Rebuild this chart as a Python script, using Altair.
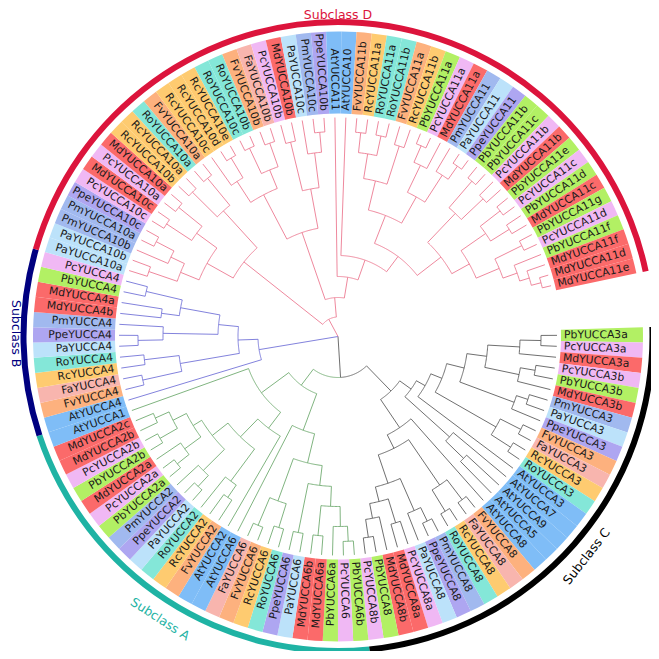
import math, re
import altair as alt
import pandas as pd

# ---------------- data: tree (node value = node height, leaves at TIP_DEPTH) ----------------
TIP_DEPTH = 219
C3A = "((PbYUCCA3a,PcYUCCA3a):203,MdYUCCA3a):182"
C3B = "((PcYUCCA3b,PbYUCCA3b):200,MdYUCCA3b):185"
C3P = "((PmYUCCA3,PaYUCCA3):200,PpeYUCCA3):188"
C3R = "((FvYUCCA3,FaYUCCA3):205,(RcYUCCA3,RoYUCCA3):205):182"
C579 = "(AtYUCCA7,(AtYUCCA9,AtYUCCA5):175):150"
C8 = ("(AtYUCCA8,(((FvYUCCA8,FaYUCCA8):205,(RcYUCCA8,RoYUCCA8):205):180,(((PmYUCCA8,PpeYUCCA8):205,PaYUCCA8):190,"
      "((PcYUCCA8a,MdYUCCA8a):195,(MdYUCCA8b,(PbYUCCA8,PcYUCCA8b):203):185):170):155):125):110")
A6 = ("((((((PbYUCCA6b,PcYUCCA6):205,PbYUCCA6a):190,(MdYUCCA6a,MdYUCCA6b):200):170,(PaYUCCA6,PpeYUCCA6):200):150,"
      "((RoYUCCA6,RcYUCCA6):200,(FvYUCCA6,FaYUCCA6):205):175):130,AtYUCCA6):100")
A2 = ("((AtYUCCA2,(((FvYUCCA2,RcYUCCA2):195,RoYUCCA2):180,(((PaYUCCA2,PpeYUCCA2):205,PmYUCCA2):190,"
      "(((PbYUCCA2a,PcYUCCA2a):205,MdYUCCA2a):190,((PbYUCCA2b,PcYUCCA2b):205,(MdYUCCA2b,MdYUCCA2c):200):185):170):160):140):115,AtYUCCA1):95")
B4 = ("(AtYUCCA4,(((FvYUCCA4,FaYUCCA4):200,(RcYUCCA4,RoYUCCA4):195):160,(((PaYUCCA4,PpeYUCCA4):200,PmYUCCA4):175,"
      "((MdYUCCA4b,MdYUCCA4a):178,(PbYUCCA4,PcYUCCA4):197):160):120):100):80")
D10L = ("((((PaYUCCA10a,PaYUCCA10b):200,(PmYUCCA10b,(PmYUCCA10a,PpeYUCCA10c):205):185):170,((PcYUCCA10c,MdYUCCA10c):205,"
        "(PcYUCCA10a,MdYUCCA10a):205):175):150,((RcYUCCA10b,RcYUCCA10a):205,(RoYUCCA10a,FvYUCCA10a):205):170):120")
D10R = ("(((RcYUCCA10c,(RcYUCCA10d,RcYUCCA10e):208):185,((RoYUCCA10c,RoYUCCA10b):208,(FvYUCCA10b,FaYUCCA10b):205):180):160,"
        "((PcYUCCA10b,MdYUCCA10b):200,(PaYUCCA10c,(PmYUCCA10c,PpeYUCCA10b):205):185):150):110")
D11A = ("((((FvYUCCA11b,RcYUCCA11a):205,(RoYUCCA11a,RoYUCCA11b):205):185,(FvYUCCA11a,RcYUCCA11b):200):160,"
        "(((PbYUCCA11a,PcYUCCA11a):208,MdYUCCA11a):190,(PmYUCCA11,(PaYUCCA11,PpeYUCCA11):208):192):160):130")
D11E = ("(((PbYUCCA11b,PbYUCCA11c):205,(PcYUCCA11b,MdYUCCA11b):200):170,(((PbYUCCA11e,PcYUCCA11c):205,(PbYUCCA11d,MdYUCCA11c):202):180,"
        "((PbYUCCA11g,PcYUCCA11d):205,(PbYUCCA11f,(MdYUCCA11f,(MdYUCCA11d,MdYUCCA11e):210):200):190):175):150):130")

SUBCLASS_C = "(((((({},{}):150,{}):130,{}):112,AtYUCCA3):100,{}):90,{}):76".format(C3A, C3B, C3P, C3R, C579, C8)
SUBCLASS_A = "({},{}):61".format(A6, A2)
SUBCLASS_B = B4
SUBCLASS_D = "({},({},(AtYUCCA11,(AtYUCCA10,({},{}):100):81):60):39):19.5".format(D10L, D10R, D11A, D11E)

SUBCLASS_NAMES = ["Subclass C", "Subclass A", "Subclass B", "Subclass D"]
SUBCLASS_TREES = [SUBCLASS_C, SUBCLASS_A, SUBCLASS_B, SUBCLASS_D]

SPECIES = ["At", "Md", "Pc", "Pb", "Pm", "Pa", "Ppe", "Fv", "Fa", "Rc", "Ro"]
SPECIES_FILL = ["#7fbdf7", "#fb6a6a", "#f0b8f4", "#b2f064", "#a1b9ef", "#bce2fa",
                "#aea6f1", "#fdb17e", "#f8b5ae", "#fecb70", "#84e7d8"]
BRANCH_COLORS = ["#5f5f5f", "#72ab72", "#7474d8", "#ec7a92"]
ARC_COLORS = ["#000000", "#1fb3a4", "#000080", "#dc143c"]

# ---------------- layout (pixels inside the 643x643 plot) ----------------
W = H = 643
CX, CY = 330.0, 328.5
R_BAND_IN, R_BAND_OUT = 223.0, 305.0
R_ARC_IN, R_ARC_OUT = 311.5, 317.5
THETA0, THETA_END = -0.3, 346.6
# subclass label placement (polar angle, radius, text rotation)
SUB_LABEL_POS = [(41.5, 332, 308), (122.2, 334, 33), (180.5, 322.5, 90), (270, 321.5, 0)]


def parse(s):
    pos = 0

    def node():
        nonlocal pos
        if s[pos] == "(":
            pos += 1
            kids = [node()]
            while s[pos] == ",":
                pos += 1
                kids.append(node())
            pos += 1
            m = re.match(r":([\d.]+)", s[pos:])
            pos += len(m.group(0))
            return {"children": kids, "depth": float(m.group(1))}
        m = re.match(r"[A-Za-z0-9]+", s[pos:])
        pos += len(m.group(0))
        return {"name": m.group(0), "depth": TIP_DEPTH}

    n = node()
    assert pos == len(s), (pos, len(s))
    return n


counts = [len(re.findall(r"[A-Za-z]+YUCCA\w*", t)) for t in SUBCLASS_TREES]
tree = parse("(({},{}):41,{},{}):0".format(*SUBCLASS_TREES))

leaves = []


def collect(n):
    if "name" in n:
        leaves.append(n)
    else:
        for c in n["children"]:
            collect(c)


collect(tree)
N = len(leaves)
assert N == sum(counts), (N, counts)
step = (THETA_END - THETA0) / (N - 1)
bounds = []
acc = 0
for k in counts:
    bounds.append((acc, acc + k))
    acc += k
for i, lf in enumerate(leaves):
    lf["angle"] = THETA0 + i * step
    lf["sub"] = next(j for j, (a, b) in enumerate(bounds) if a <= i < b)


def assign(n):
    if "name" in n:
        return {n["sub"]}
    subs = set()
    for c in n["children"]:
        subs |= assign(c)
    angs = [c["angle"] for c in n["children"]]
    n["angle"] = (min(angs) + max(angs)) / 2
    n["sub"] = list(subs)[0] if len(subs) == 1 else 0
    return subs


assign(tree)


def pol(r, th):
    a = math.radians(th)
    return CX + r * math.cos(a), CY + r * math.sin(a)


radial, arcs = [], []
aid = 0


def walk(n, parent):
    global aid
    if parent is not None:
        x1, y1 = pol(parent["depth"], n["angle"])
        x2, y2 = pol(n["depth"], n["angle"])
        radial.append(dict(x=x1, y=y1, x2=x2, y2=y2, c=BRANCH_COLORS[n["sub"]]))
    if "children" in n:
        if n["depth"] > 0:
            for c in n["children"]:
                a0, a1 = sorted([n["angle"], c["angle"]])
                k = max(2, int((a1 - a0) / 0.5) + 2)
                for j in range(k):
                    t = a0 + (a1 - a0) * j / (k - 1)
                    x, y = pol(n["depth"], t)
                    arcs.append(dict(x=x, y=y, id=aid, o=j, c=BRANCH_COLORS[c["sub"]]))
                aid += 1
        for c in n["children"]:
            walk(c, n)


walk(tree, None)

bands, labels_r, labels_l = [], [], []
for lf in leaves:
    th = lf["angle"]
    sp = re.match(r"(Ppe|[A-Z][a-z])", lf["name"]).group(1)
    bands.append(dict(t1=math.radians(th - step / 2 + 90), t2=math.radians(th + step / 2 + 90),
                      c=SPECIES_FILL[SPECIES.index(sp)]))
    x, y = pol(R_BAND_IN + 3, th)
    if 90 < th < 270:
        labels_l.append(dict(x=x, y=y, a=(th - 180) % 360, t=lf["name"]))
    else:
        labels_r.append(dict(x=x, y=y, a=th % 360, t=lf["name"]))

sub_arcs = []
for j, (a, b) in enumerate(bounds):
    lo = leaves[a]["angle"] - step / 2
    hi = leaves[b - 1]["angle"] + step / 2
    sub_arcs.append(dict(t1=math.radians(lo + 90), t2=math.radians(hi + 90), c=ARC_COLORS[j]))

sub_labels = []
for j, (th, r, rot) in enumerate(SUB_LABEL_POS):
    x, y = pol(r, th)
    sub_labels.append(dict(x=x, y=y, a=rot, t=SUBCLASS_NAMES[j], c=ARC_COLORS[j]))

xs = alt.Scale(domain=[0, W], range=[0, W])
ys = alt.Scale(domain=[0, H], range=[0, H])
X = lambda f: alt.X(f, type="quantitative", scale=xs, axis=None)
Y = lambda f: alt.Y(f, type="quantitative", scale=ys, axis=None)

band_layer = alt.Chart(pd.DataFrame(bands)).mark_arc(stroke=None).encode(
    theta=alt.Theta("t1:Q", scale=None), theta2="t2:Q",
    radius=alt.value(R_BAND_OUT), radius2=alt.value(R_BAND_IN),
    x=alt.value(CX), y=alt.value(CY),
    color=alt.Color("c:N", scale=None))

sub_arc_layer = alt.Chart(pd.DataFrame(sub_arcs)).mark_arc(stroke=None).encode(
    theta=alt.Theta("t1:Q", scale=None), theta2="t2:Q",
    radius=alt.value(R_ARC_OUT), radius2=alt.value(R_ARC_IN),
    x=alt.value(CX), y=alt.value(CY),
    color=alt.Color("c:N", scale=None))

radial_layer = alt.Chart(pd.DataFrame(radial)).mark_rule(strokeWidth=0.9).encode(
    x=X("x"), y=Y("y"), x2="x2", y2="y2", color=alt.Color("c:N", scale=None))

arc_layer = alt.Chart(pd.DataFrame(arcs)).mark_line(strokeWidth=0.9).encode(
    x=X("x"), y=Y("y"), detail="id:N", order="o:Q", color=alt.Color("c:N", scale=None))

txt = dict(font="DejaVu Sans", fontSize=10.8, baseline="middle", color="#1a1a1a")
lab_r = alt.Chart(pd.DataFrame(labels_r)).mark_text(align="left", **txt).encode(
    x=X("x"), y=Y("y"), angle=alt.Angle("a:Q", scale=None), text="t:N")
lab_l = alt.Chart(pd.DataFrame(labels_l)).mark_text(align="right", **txt).encode(
    x=X("x"), y=Y("y"), angle=alt.Angle("a:Q", scale=None), text="t:N")

sub_lab = alt.Chart(pd.DataFrame(sub_labels)).mark_text(
    font="DejaVu Sans", fontSize=12.5, baseline="middle", align="center").encode(
    x=X("x"), y=Y("y"), angle=alt.Angle("a:Q", scale=None), text="t:N",
    color=alt.Color("c:N", scale=None))

chart = alt.layer(band_layer, sub_arc_layer, radial_layer, arc_layer, lab_r, lab_l, sub_lab).properties(
    width=W, height=H, padding=0, autosize=alt.AutoSizeParams(type="none")).configure_view(stroke=None)

chart.save("out.html", embed_options={"renderer": "svg", "actions": False})
